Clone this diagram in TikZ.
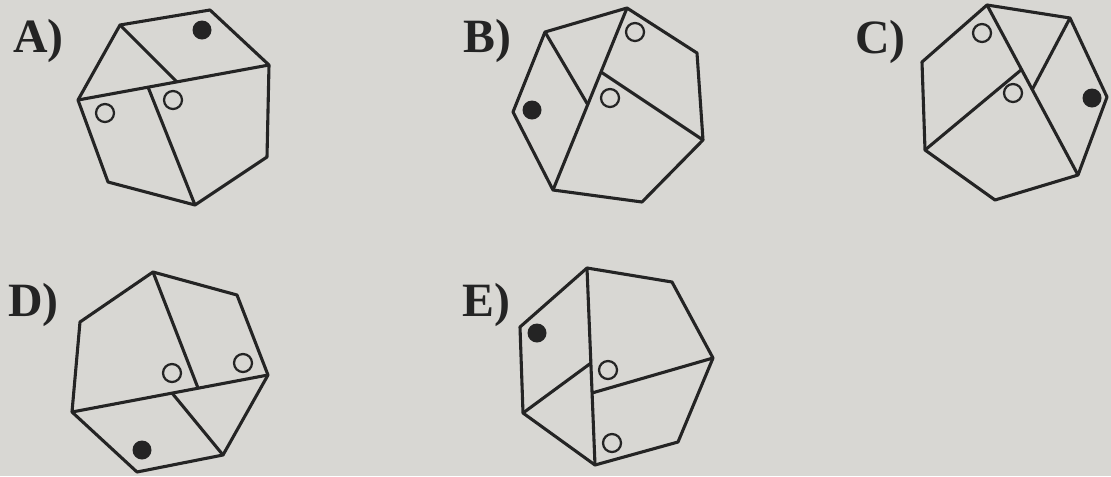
\documentclass[tikz,border=0pt]{standalone}
\usepackage{fontspec}
\setmainfont{Liberation Serif}
\usepackage{tikz}

\definecolor{paper}{RGB}{216,215,211}
\definecolor{ink}{RGB}{36,36,36}

\begin{document}
\begin{tikzpicture}[x=0.025cm,y=-0.025cm,
        fig/.style={draw=ink,line width=2.2pt,line join=round},
        hole/.style={draw=ink,line width=1.6pt,fill=paper},
        dot/.style={fill=ink},
        lab/.style={anchor=base west,inner sep=0pt,text=ink,
            font=\fontsize{34}{34}\selectfont\bfseries}]
        \fill[paper] (0,0) rectangle (1111,476);
        \useasboundingbox (0,0) rectangle (1111,476);

        % A
        \node[lab] (labA) at (13,52) {A)};
        \draw[fig] (120,25) -- (210,10) -- (269,65) -- (267,157) -- (195,205)
            -- (108,182) -- (78,100) -- cycle;
        \draw[fig] (78,100) -- (269,65);
        \draw[fig] (120,25) -- (177,82);
        \draw[fig] (148,87) -- (195,205);
        \draw[hole] (105,113) circle (9);
        \draw[hole] (173,100) circle (9);
        \fill[dot] (202,30) circle (9.5);

        % B
        \node[lab] (labB) at (463,52) {B)};
        \draw[fig] (627,8) -- (697,53) -- (703,140) -- (642,202) -- (553,190)
            -- (513,112) -- (545,32) -- cycle;
        \draw[fig] (627,8) -- (553,190);
        \draw[fig] (545,32) -- (588,105);
        \draw[fig] (601,72) -- (703,140);
        \draw[hole] (635,32) circle (9);
        \draw[hole] (610,98) circle (9);
        \fill[dot] (532,110) circle (9.5);

        % C
        \node[lab] (labC) at (855,53) {C)};
        \draw[fig] (987,5) -- (1070,18) -- (1107,97) -- (1078,175) -- (995,200)
            -- (925,150) -- (922,62) -- cycle;
        \draw[fig] (987,5) -- (1078,175);
        \draw[fig] (1070,18) -- (1032,90);
        \draw[fig] (925,150) -- (1021,70);
        \draw[hole] (982,33) circle (9);
        \draw[hole] (1013,93) circle (9);
        \fill[dot] (1092,98) circle (9.5);

        % D
        \node[lab] (labD) at (8,316) {D)};
        \draw[fig] (153,272) -- (237,295) -- (268,375) -- (223,455) -- (137,472)
            -- (72,412) -- (80,322) -- cycle;
        \draw[fig] (72,412) -- (268,375);
        \draw[fig] (153,272) -- (198,388);
        \draw[fig] (172,393) -- (223,455);
        \draw[hole] (172,373) circle (9);
        \draw[hole] (243,363) circle (9);
        \fill[dot] (142,450) circle (9.5);

        % E
        \node[lab] (labE) at (462,316) {E)};
        \draw[fig] (587,268) -- (672,282) -- (713,358) -- (678,442) -- (595,465)
            -- (523,413) -- (520,327) -- cycle;
        \draw[fig] (587,268) -- (595,465);
        \draw[fig] (523,413) -- (591,363);
        \draw[fig] (592,393) -- (713,358);
        \draw[hole] (608,370) circle (9);
        \draw[hole] (612,443) circle (9);
        \fill[dot] (537,333) circle (9.5);
    \end{tikzpicture}
\end{document}
